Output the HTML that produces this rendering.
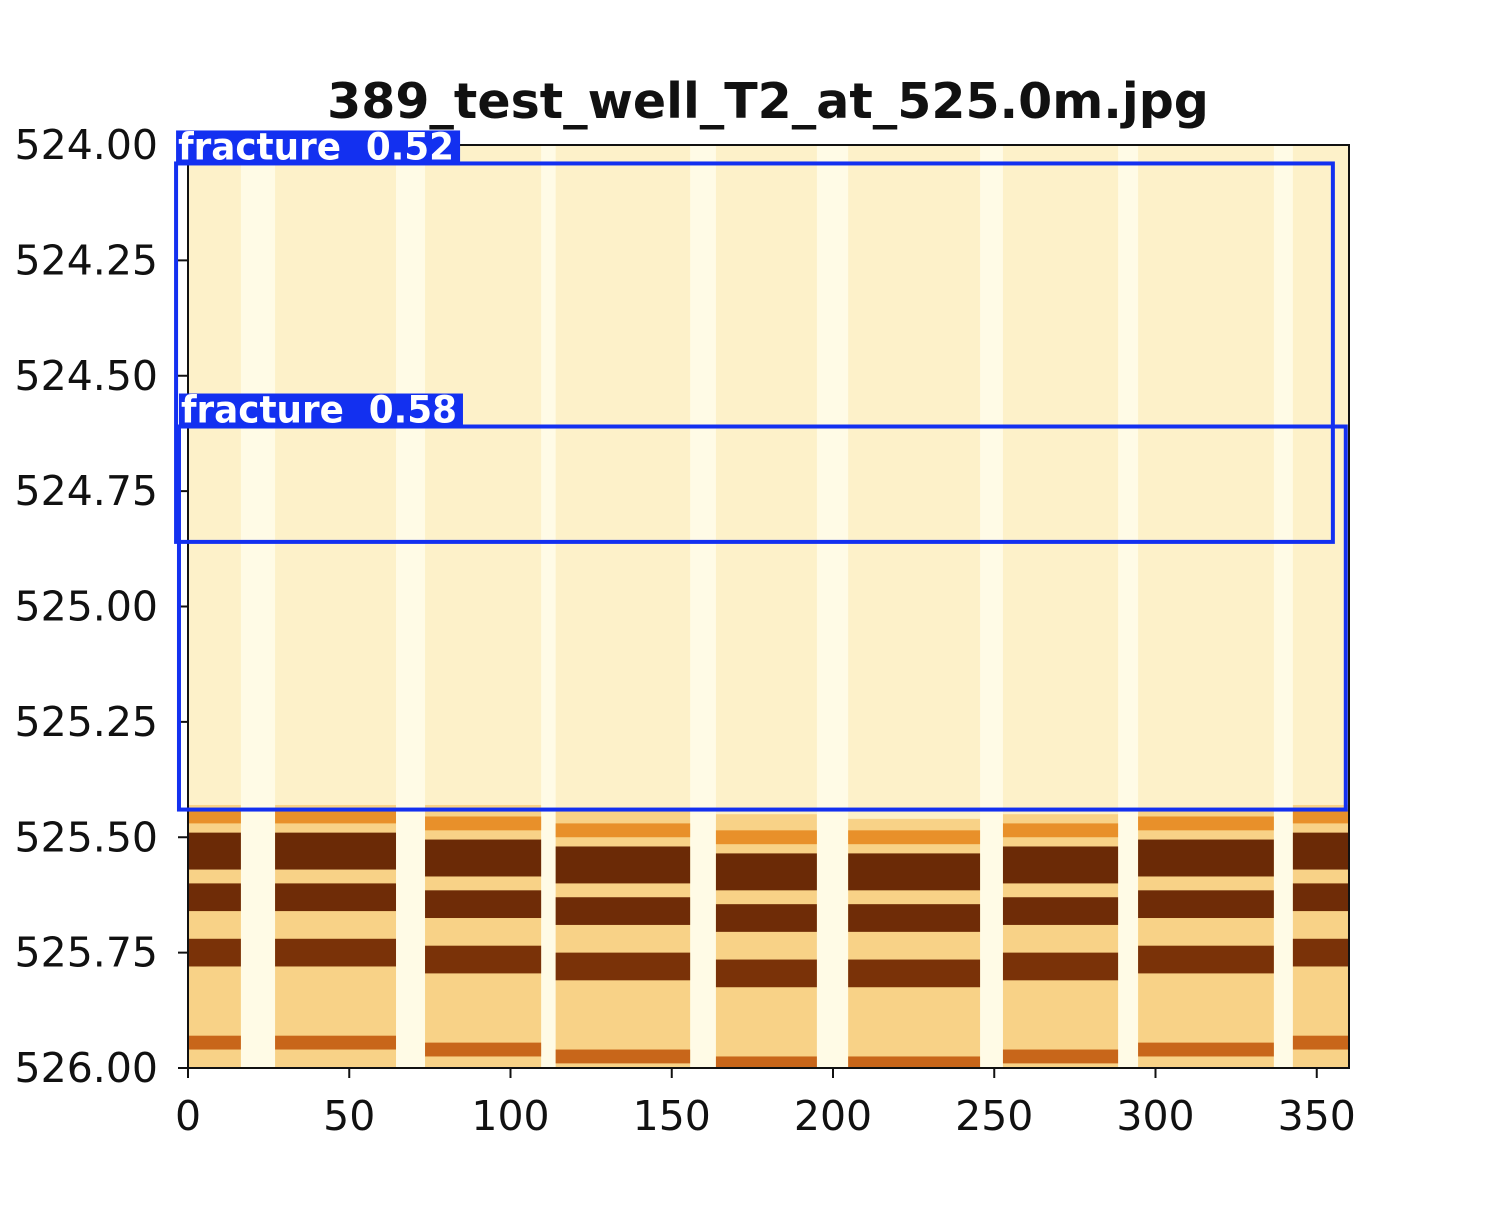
<!DOCTYPE html>
<html><head><meta charset="utf-8"><style>
html,body{margin:0;padding:0;background:#fff;}
svg text{font-family:"DejaVu Sans","Liberation Sans",sans-serif;}
</style></head><body>
<svg id="c" width="1500" height="1200" xmlns="http://www.w3.org/2000/svg">
<defs><clipPath id="pc"><rect x="188" y="145" width="1161" height="923"/></clipPath></defs>
<text x="768" y="118" text-anchor="middle" font-size="49" font-weight="bold" fill="#111">389_test_well_T2_at_525.0m.jpg</text>
<g id="img" clip-path="url(#pc)"></g>
<rect x="188" y="145" width="1161" height="923" fill="none" stroke="#111" stroke-width="2"/>
<g id="axes"></g>
<g id="boxes"></g>
</svg>
<script>
const xTicks=[0,50,100,150,200,250,300,350];
const yTicks=[524.00,524.25,524.50,524.75,525.00,525.25,525.50,525.75,526.00];
const pads=[[0,16.4],[27,64.5],[73.5,109.5],[114,155.7],[163.7,195],[204.7,245.6],[252.7,288.4],[294.6,336.7],[342.6,360]];
const bandStart=[525.43,525.43,525.43,525.44,525.45,525.46,525.45,525.44,525.43];
const bands=[[525.44,525.47,"#e8902a"],[525.49,525.57,"#6b2a06"],[525.60,525.66,"#6f2c07"],[525.72,525.78,"#7a3208"],[525.93,525.96,"#c8661a"]];
const bandShift=[0,0,0.015,0.03,0.045,0.045,0.03,0.015,0];
const detections=[{label:"fracture",score:0.52,x0:-3.7,x1:355,y0:524.04,y1:524.86},{label:"fracture",score:0.58,x0:-2.8,x1:359,y0:524.61,y1:525.44}];
const X=v=>188+(v/360)*1161;
const Y=v=>145+(v-524)*461.5;
const NS="http://www.w3.org/2000/svg";
function mk(p,t,a){const e=document.createElementNS(NS,t);for(const k in a)e.setAttribute(k,a[k]);p.appendChild(e);return e;}
const img=document.getElementById('img');
let bg=mk(img,'rect',{x:X(0),y:Y(524),width:X(360)-X(0),height:Y(526)-Y(524),fill:'#fffbe6'});


pads.forEach((p,i)=>{
 let r=mk(img,'rect',{x:X(p[0]),y:Y(524),width:X(p[1])-X(p[0]),height:Y(bandStart[i])-Y(524),fill:'#fdf1c9'});
 
 
 let b=mk(img,'rect',{x:X(p[0]),y:Y(bandStart[i]),width:X(p[1])-X(p[0]),height:Y(526)-Y(bandStart[i]),fill:'#f8d287'});
 
 
 bands.forEach(bd=>{
  let s=mk(img,'rect',{x:X(p[0]),y:Y(bd[0]+bandShift[i]),width:X(p[1])-X(p[0]),height:Y(bd[1])-Y(bd[0]),fill:bd[2]});
  
  
 });
});
const ax=document.getElementById('axes');
xTicks.forEach(t=>{
 mk(ax,'line',{x1:X(t),x2:X(t),y1:1068,y2:1078,stroke:'#111','stroke-width':2});
 let tx=mk(ax,'text',{x:X(t),y:1130,'text-anchor':'middle','font-size':41,fill:'#111'});tx.textContent=t;
 
 
});
yTicks.forEach(t=>{
 mk(ax,'line',{x1:178,x2:188,y1:Y(t),y2:Y(t),stroke:'#111','stroke-width':2});
 let tx=mk(ax,'text',{x:158,y:Y(t)+14,'text-anchor':'end','font-size':41,fill:'#111'});tx.textContent=t.toFixed(2);
 
 
});
const bx=document.getElementById('boxes');
detections.forEach(d=>{
 let r=mk(bx,'rect',{x:X(d.x0),y:Y(d.y0),width:X(d.x1)-X(d.x0),height:Y(d.y1)-Y(d.y0),fill:'none',stroke:'#1330f0','stroke-width':4});
 
 
 let lb=mk(bx,'rect',{x:X(d.x0),y:Y(d.y0)-33,width:284,height:33,fill:'#1330f0'});
 
 
 let t=mk(bx,'text',{x:X(d.x0)+2,y:Y(d.y0)-4,'font-size':37,'font-weight':'bold',fill:'#fff',textLength:276,lengthAdjust:'spacingAndGlyphs'});
 t.textContent=d.label+'  '+d.score.toFixed(2);
 t.setAttribute('xml:space','preserve');t.style.whiteSpace='pre';
 
 
});
</script>
</body></html>
